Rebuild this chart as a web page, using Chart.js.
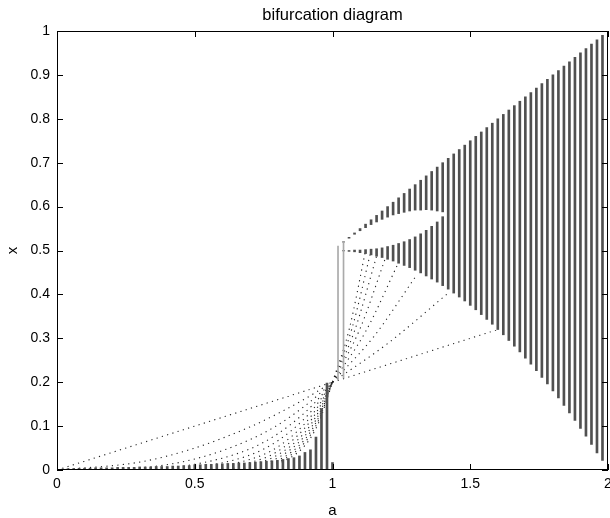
<!DOCTYPE html>
<html>
<head>
<meta charset="utf-8">
<script src="https://cdn.jsdelivr.net/npm/chart.js@4.4.1/dist/chart.umd.min.js"></script>
<style>
  html, body { margin: 0; padding: 0; background: #fff; }
</style>
</head>
<body>
<canvas id="bifChart" width="610" height="518"></canvas>
<script>
// dense columns left of a = 1 (points piled up near x = 0)
const lowA = [0.02, 0.04, 0.06, 0.08, 0.10, 0.12, 0.14, 0.16, 0.18, 0.20,
              0.22, 0.24, 0.26, 0.28, 0.30, 0.32, 0.34, 0.36, 0.38, 0.40,
              0.42, 0.44, 0.46, 0.48, 0.50, 0.52, 0.54, 0.56, 0.58, 0.60,
              0.62, 0.64, 0.66, 0.68, 0.70, 0.72, 0.74, 0.76, 0.78, 0.80,
              0.82, 0.84, 0.86, 0.88, 0.90, 0.92, 0.94, 0.96, 0.98, 1.00];
const lowTop = [0.002, 0.003, 0.003, 0.004, 0.004, 0.004, 0.005, 0.005, 0.005, 0.005,
                0.006, 0.006, 0.006, 0.006, 0.007, 0.007, 0.007, 0.008, 0.008, 0.008,
                0.009, 0.009, 0.010, 0.010, 0.012, 0.012, 0.013, 0.013, 0.014, 0.014,
                0.015, 0.015, 0.016, 0.016, 0.017, 0.018, 0.019, 0.020, 0.021, 0.022,
                0.024, 0.026, 0.028, 0.032, 0.040, 0.046, 0.075, 0.140, 0.198, 0.017];

// transient columns just right of a = 1
const transA = [1.02, 1.04];
const transLow = [0.205, 0.21];
const transHigh = [0.51, 0.52];

// attractor bands for a > 1 (gap = hole between the two bands)
const bandA = [1.04, 1.06, 1.08, 1.10, 1.12, 1.14, 1.16, 1.18, 1.20, 1.22,
               1.24, 1.26, 1.28, 1.30, 1.32, 1.34, 1.36, 1.38, 1.40, 1.42,
               1.44, 1.46, 1.48, 1.50, 1.52, 1.54, 1.56, 1.58, 1.60, 1.62,
               1.64, 1.66, 1.68, 1.70, 1.72, 1.74, 1.76, 1.78, 1.80, 1.82,
               1.84, 1.86, 1.88, 1.90, 1.92, 1.94, 1.96, 1.98];
const bandLow = [0.499, 0.498, 0.497, 0.495, 0.493, 0.490, 0.487, 0.484, 0.480, 0.476,
                 0.471, 0.466, 0.461, 0.455, 0.449, 0.442, 0.435, 0.428, 0.420, 0.412,
                 0.403, 0.394, 0.385, 0.375, 0.365, 0.354, 0.343, 0.332, 0.320, 0.308,
                 0.295, 0.282, 0.269, 0.255, 0.241, 0.226, 0.211, 0.196, 0.180, 0.164,
                 0.147, 0.130, 0.113, 0.095, 0.077, 0.058, 0.039, 0.022];
const bandHigh = [0.52, 0.53, 0.54, 0.55, 0.56, 0.57, 0.58, 0.59, 0.60, 0.61,
                  0.62, 0.63, 0.64, 0.65, 0.66, 0.67, 0.68, 0.69, 0.70, 0.71,
                  0.72, 0.73, 0.74, 0.75, 0.76, 0.77, 0.78, 0.79, 0.80, 0.81,
                  0.82, 0.83, 0.84, 0.85, 0.86, 0.87, 0.88, 0.89, 0.90, 0.91,
                  0.92, 0.93, 0.94, 0.95, 0.96, 0.97, 0.98, 0.99];
const gapLow = [0.500, 0.500, 0.501, 0.501, 0.502, 0.503, 0.504, 0.506, 0.509, 0.512,
                0.516, 0.520, 0.525, 0.531, 0.538, 0.546, 0.555, 0.565, 0.577];
const gapHigh = [0.519, 0.528, 0.537, 0.545, 0.552, 0.559, 0.565, 0.571, 0.576, 0.581,
                 0.584, 0.587, 0.590, 0.592, 0.592, 0.593, 0.592, 0.590, 0.588];

// dotted transient curves for a < 1 (read at these a values)
const fanA = [0, 0.3, 0.5, 0.7, 0.8, 0.9, 0.95, 1.0];
const fanY = [
  [0, 0.060, 0.100, 0.140, 0.160, 0.180, 0.190, 0.2],
  [0, 0.018, 0.050, 0.098, 0.128, 0.162, 0.181, 0.2],
  [0, 0.005, 0.025, 0.069, 0.102, 0.146, 0.172, 0.2],
  [0, 0.002, 0.013, 0.048, 0.082, 0.131, 0.163, 0.2],
  [0, 0.000, 0.006, 0.034, 0.066, 0.118, 0.155, 0.2],
  [0, 0.000, 0.003, 0.024, 0.052, 0.106, 0.147, 0.2],
  [0, 0.000, 0.002, 0.017, 0.042, 0.096, 0.140, 0.2],
  [0, 0.000, 0.001, 0.012, 0.034, 0.086, 0.133, 0.2],
  [0, 0.000, 0.000, 0.008, 0.027, 0.078, 0.126, 0.2],
  [0, 0.000, 0.000, 0.006, 0.021, 0.070, 0.120, 0.2],
  [0, 0.000, 0.000, 0.004, 0.017, 0.063, 0.114, 0.2],
  [0, 0.000, 0.000, 0.003, 0.014, 0.056, 0.108, 0.2]
];

// dotted transient curves for a > 1, each as (a, x) pairs
const riseA = [
  [1.0, 1.6],
  [1.0, 1.2, 1.42],
  [1.0, 1.15, 1.30],
  [1.0, 1.12, 1.24],
  [1.0, 1.10, 1.19],
  [1.0, 1.08, 1.16],
  [1.0, 1.07, 1.14],
  [1.0, 1.06, 1.12]
];
const riseY = [
  [0.2, 0.32],
  [0.2, 0.288, 0.403],
  [0.2, 0.304, 0.439],
  [0.2, 0.315, 0.473],
  [0.2, 0.322, 0.479],
  [0.2, 0.317, 0.487],
  [0.2, 0.321, 0.500],
  [0.2, 0.319, 0.500]
];

const xTicks = [0, 0.5, 1, 1.5, 2];
const yTicks = [0, 0.1, 0.2, 0.3, 0.4, 0.5, 0.6, 0.7, 0.8, 0.9, 1];
const titleText = 'bifurcation diagram';

const FONT = "'Liberation Sans', Arial, sans-serif";
const colColor = '#505050';
const dotColor = '#222';

function barSet(data, color, thick) {
    return {
        type: 'bar',
        data: data,
        backgroundColor: color,
        borderWidth: 0,
        barThickness: thick,
        grouped: false
    };
}
function dotSet(xs, ys) {
    return {
        type: 'line',
        data: xs.map((a, i) => ({ x: a, y: ys[i] })),
        borderColor: dotColor,
        borderWidth: 1.1,
        borderDash: [1.2, 4.3],
        pointRadius: 0,
        fill: false,
        cubicInterpolationMode: 'monotone'
    };
}

const datasets = [];
datasets.push(barSet(lowA.map((a, i) => ({ x: a, y: [0, lowTop[i]] })), colColor, 2));
datasets.push(barSet(transA.map((a, i) => ({ x: a, y: [transLow[i], transHigh[i]] })), '#aaa', 1));
datasets.push(barSet(bandA.map((a, i) => ({
    x: a, y: [bandLow[i], i < gapLow.length ? gapLow[i] : bandHigh[i]]
})), colColor, 2));
datasets.push(barSet(gapHigh.map((g, i) => ({ x: bandA[i], y: [g, bandHigh[i]] })), colColor, 2));
fanY.forEach(ys => datasets.push(dotSet(fanA, ys)));
riseA.forEach((xs, k) => datasets.push(dotSet(xs, riseY[k])));

// box round the plot with inward ticks on all four sides, title centred over the axes
const boxPlugin = {
    id: 'box',
    afterDraw(chart) {
        const { ctx, chartArea: ca, scales } = chart;
        const len = 6;
        ctx.save();
        ctx.strokeStyle = '#000';
        ctx.lineWidth = 1;
        ctx.strokeRect(ca.left + 0.5, ca.top + 0.5, ca.right - ca.left - 1, ca.bottom - ca.top - 1);
        ctx.beginPath();
        xTicks.forEach(v => {
            const px = Math.round(scales.x.getPixelForValue(v)) + 0.5;
            ctx.moveTo(px, ca.bottom); ctx.lineTo(px, ca.bottom - len);
            ctx.moveTo(px, ca.top); ctx.lineTo(px, ca.top + len);
        });
        yTicks.forEach(v => {
            const py = Math.round(scales.y.getPixelForValue(v)) + 0.5;
            ctx.moveTo(ca.left, py); ctx.lineTo(ca.left + len, py);
            ctx.moveTo(ca.right, py); ctx.lineTo(ca.right - len, py);
        });
        ctx.stroke();
        ctx.fillStyle = '#000';
        ctx.font = '16.5px ' + FONT;
        ctx.textAlign = 'center';
        ctx.textBaseline = 'middle';
        ctx.fillText(titleText, (ca.left + ca.right) / 2, 15);
        ctx.restore();
    }
};

const ctx = document.getElementById('bifChart').getContext('2d');
const bifChart = new Chart(ctx, {
    type: 'bar',
    data: { datasets: datasets },
    options: {
        responsive: false,
        animation: false,
        events: [],
        layout: { padding: { top: 31, right: 2, bottom: 0, left: 0 } },
        plugins: {
            legend: { display: false },
            tooltip: { enabled: false },
            title: { display: false }
        },
        scales: {
            x: {
                type: 'linear',
                min: 0,
                max: 2,
                offset: false,
                grid: { display: false, drawTicks: false },
                border: { display: false },
                afterBuildTicks: s => { s.ticks = xTicks.map(v => ({ value: v })); },
                afterFit: s => { s.height = 48; s.paddingLeft = 0; s.paddingRight = 0; },
                ticks: {
                    color: '#000',
                    padding: 6,
                    maxRotation: 0,
                    font: { family: FONT, size: 14 },
                    callback: v => String(v)
                },
                title: {
                    display: true,
                    text: 'a',
                    color: '#000',
                    font: { family: FONT, size: 15, lineHeight: 1 },
                    padding: { top: 0, bottom: 0 }
                }
            },
            y: {
                min: 0,
                max: 1,
                grid: { display: false, drawTicks: false },
                border: { display: false },
                afterBuildTicks: s => { s.ticks = yTicks.map(v => ({ value: v })); },
                afterFit: s => { s.width = 57; },
                ticks: {
                    color: '#000',
                    padding: 7,
                    font: { family: FONT, size: 14 },
                    callback: v => String(Math.round(v * 10) / 10)
                },
                title: {
                    display: true,
                    text: 'x',
                    color: '#000',
                    font: { family: FONT, size: 15, lineHeight: 1 },
                    padding: { top: 5, bottom: 0 }
                }
            }
        }
    },
    plugins: [boxPlugin]
});
</script>
</body>
</html>
